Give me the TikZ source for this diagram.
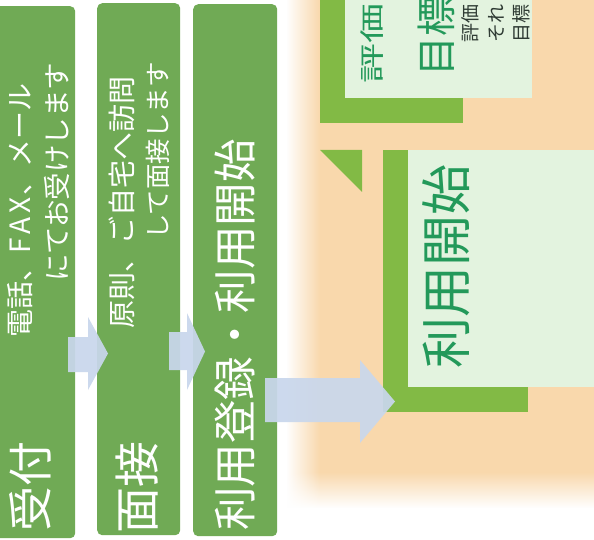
\documentclass[tikz,border=0pt]{standalone}
\usepackage{fontspec}
\setmainfont{Noto Sans CJK JP}
\usetikzlibrary{fadings}
\definecolor{bargreen}{HTML}{70AA55}
\definecolor{framegreen}{HTML}{82BA45}
\definecolor{boxgreen}{HTML}{E3F3DF}
\definecolor{peach}{HTML}{F9D8AC}
\definecolor{arrowblue}{HTML}{C9D7EC}
\definecolor{tealtext}{HTML}{23995A}
\definecolor{smalltext}{HTML}{2F3B34}
\begin{document}
\begin{tikzpicture}[x=1pt,y=-1pt,
  bar/.style={fill=bargreen, rounded corners=5pt, anchor=north west, inner sep=0pt},
  vtext/.style={rotate=90, anchor=west, inner sep=0pt},
  wtext/.style={vtext, text=white},
  gtext/.style={vtext, text=tealtext},
  stext/.style={vtext, text=smalltext},
  blockarrow/.style={fill=arrowblue, fill opacity=0.93}]
\useasboundingbox (0,0) rectangle (594,540);
\clip (0,0) rectangle (594,540);
\fill[white] (0,0) rectangle (594,540);
% peach background with faded edges
\fill[peach] (286,-5) rectangle (600,508);
\fill[white, path fading=east] (286,-5) rectangle (320,520);
\fill[white, path fading=north] (280,472) rectangle (600,508);
\fill[white] (280,508) rectangle (600,545);
% green bars
\node[bar, minimum width=85pt, minimum height=532pt] (bar1) at (-10,6) {};
\node[bar, minimum width=83pt, minimum height=532pt] (bar2) at (97,3) {};
\node[bar, minimum width=84pt, minimum height=532pt] (bar3) at (193,4) {};
% upper right frame
\fill[framegreen] (320,-5) rectangle (463,123);
\fill[boxgreen] (345,-5) rectangle (532,98);
% middle right frame
\fill[framegreen] (320,150) -- (362,150) -- (362,192) -- cycle;
\fill[framegreen] (383,150) rectangle (528,412);
\fill[boxgreen] (408,150) rectangle (600,387);
% block arrows
\fill[blockarrow] (68,337) -- (88,337) -- (88,317) -- (108,353.5) -- (88,390) -- (88,372) -- (68,372) -- cycle;
\fill[blockarrow] (169,332) -- (187,332) -- (187,313) -- (205,351.5) -- (187,390) -- (187,370) -- (169,370) -- cycle;
\fill[blockarrow] (265,378) -- (360,378) -- (360,360) -- (395,401.5) -- (360,443) -- (360,422) -- (265,422) -- cycle;
% bar texts
\node[wtext, font=\fontsize{45}{45}\selectfont] (t1) at (30,532) {受付};
\node[wtext, font=\fontsize{28}{28}\selectfont] (t1a) at (20,338) {電話、F\kern4pt A\kern4pt X\kern2pt 、メール};
\node[wtext, font=\fontsize{27.5}{27.5}\selectfont] (t1b) at (57,282) {にてお受けします};
\node[wtext, font=\fontsize{46}{46}\selectfont] (t2) at (137,534) {面接};
\node[wtext, font=\fontsize{28}{28}\selectfont] (t2a) at (122,329) {原則、ご自宅へ訪問};
\node[wtext, font=\fontsize{25.5}{25.5}\selectfont] (t2b) at (158,240) {して面接します};
\node[wtext, font=\fontsize{43.5}{43.5}\selectfont] (t3) at (235,531) {利用登録・利用開始};
% right side texts
\node[gtext, font=\fontsize{40}{40}\selectfont] (r1) at (372,84) {\scalebox{1}[0.62]{評価}};
\node[gtext, font=\fontsize{40}{40}\selectfont] (r2) at (436,77) {目標};
\node[stext, font=\fontsize{19}{19}\selectfont] (s1) at (470,43) {評価};
\node[stext, font=\fontsize{19}{19}\selectfont] (s2) at (496,43) {それ};
\node[stext, font=\fontsize{19}{19}\selectfont] (s3) at (521,43) {目標};
\node[gtext, font=\fontsize{51}{51}\selectfont] (r3) at (446,369) {利用開始};
\end{tikzpicture}
\end{document}
